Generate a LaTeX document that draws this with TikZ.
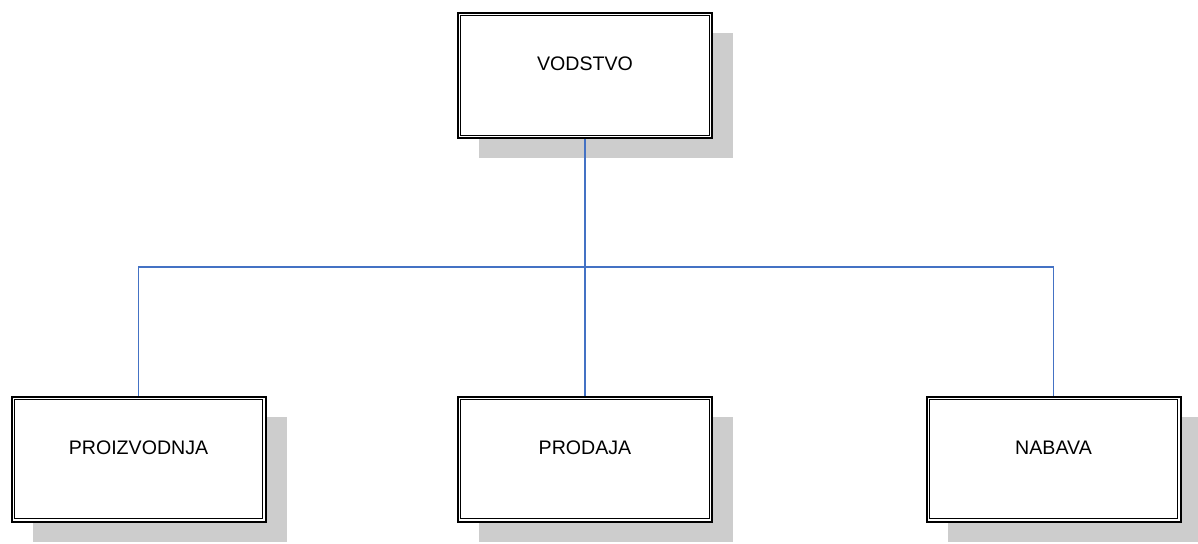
\documentclass[tikz,border=0pt]{standalone}
\usepackage{fontspec}
\setmainfont{Liberation Sans}
\usetikzlibrary{shadows,calc}
\definecolor{boxshadow}{HTML}{CDCDCD}
\definecolor{linkblue}{HTML}{4472C4}
\tikzset{
  orgbox/.style={draw=black, line width=1pt, fill=white, rectangle,
    minimum width=127pt, minimum height=62.5pt, inner sep=0pt,
    text height=7pt, text depth=11.8pt,
    font=\fontsize{9.8}{12}\selectfont,
    general shadow={fill=boxshadow, shadow xshift=10.5pt, shadow yshift=-10pt}},
  innerframe/.style={draw=black, line width=0.65pt},
  link/.style={draw=linkblue, line width=0.8pt}
}
\newcommand{\frameinside}[1]{%
  \draw[innerframe] ($(#1.north west)+(3.7,3.7)$) rectangle ($(#1.south east)+(-3.7,-3.7)$);}
\begin{document}
\begin{tikzpicture}[x=0.5pt,y=-0.5pt]
  \useasboundingbox (0,0) rectangle (1198,543);
  % connectors first, boxes on top
  \coordinate (bar) at (585,267);
  \node[orgbox] (vod)  at (585,75.5)  {VODSTVO};
  \node[orgbox] (proi) at (138.5,459) {PROIZVODNJA};
  \node[orgbox] (prod) at (585,459)   {PRODAJA};
  \node[orgbox] (nab)  at (1053.5,459){NABAVA};
  \frameinside{vod}
  \frameinside{proi}
  \frameinside{prod}
  \frameinside{nab}
  \draw[link] (vod.south) -- (prod.north);
  \draw[link] (proi.north) |- (bar) -| (nab.north);
\end{tikzpicture}
\end{document}
